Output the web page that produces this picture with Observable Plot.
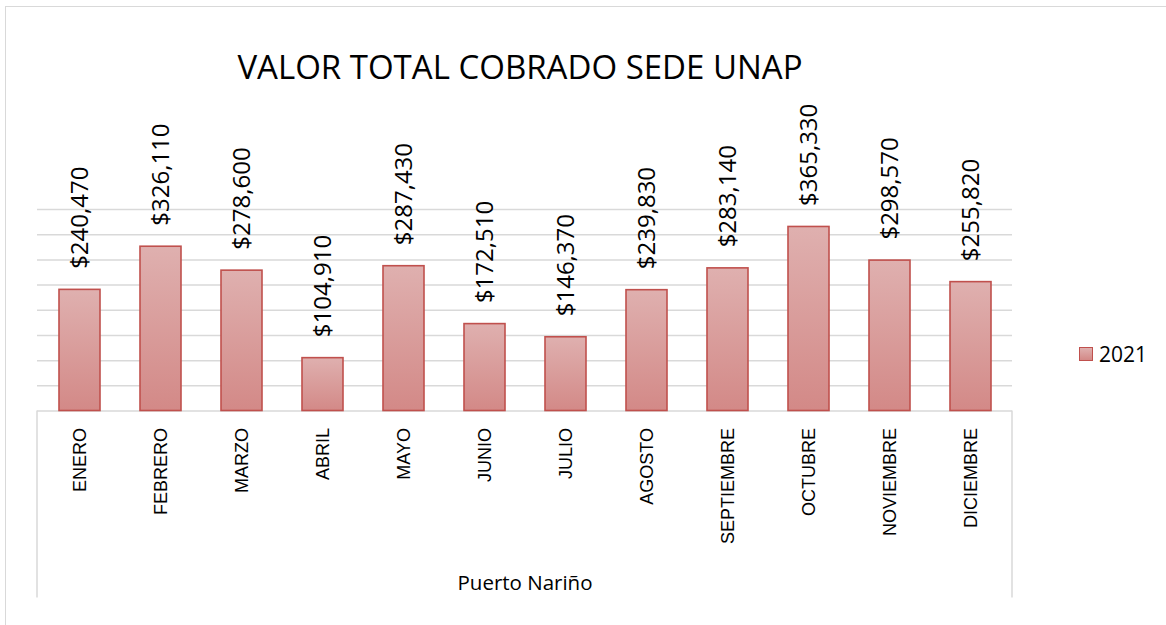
<!DOCTYPE html>
<html>
<head>
<meta charset="utf-8">
<script src="https://cdn.jsdelivr.net/npm/d3@7"></script>
<script src="https://cdn.jsdelivr.net/npm/@observablehq/plot@0.6"></script>
<style>
  html, body { margin: 0; padding: 0; background: #fff; }
  #wrap { position: relative; width: 1166px; height: 625px; overflow: hidden; }
  #border { position: absolute; left: 5px; top: 6px; width: 1200px; height: 700px; border: 1.5px solid #d9d9d9; box-sizing: border-box; }
  #title { position: absolute; left: 0; width: 1040px; top: 50px; text-align: center; font-family: "Open Sans", sans-serif; font-size: 33px; color: #000; line-height: 1; white-space: nowrap; }
  #chart { position: absolute; left: 0; top: 0; }
  #legend { position: absolute; left: 1079px; top: 341px; font-family: "Open Sans", sans-serif; font-size: 21px; color: #000; display: flex; align-items: center; gap: 6px; line-height: 26px; }
  #legend .sw { width: 14px; height: 14px; box-sizing: border-box; border: 1.5px solid #c0504d; background: linear-gradient(#dfb0af, #d38987); }
</style>
</head>
<body>
<div id="wrap">
  <div id="border"></div>
  <div id="chart"></div>
  <div id="title"></div>
  <div id="legend"></div>
</div>
<script>
const months = ["ENERO","FEBRERO","MARZO","ABRIL","MAYO","JUNIO","JULIO","AGOSTO","SEPTIEMBRE","OCTUBRE","NOVIEMBRE","DICIEMBRE"];
const values2021 = [240470, 326110, 278600, 104910, 287430, 172510, 146370, 239830, 283140, 365330, 298570, 255820];
const seriesName = "2021";
const titleText = "VALOR TOTAL COBRADO SEDE UNAP";
const axisTitle = "Puerto Nariño";
const yTicks = [0, 50000, 100000, 150000, 200000, 250000, 300000, 350000, 400000];

const data = months.map((m, i) => ({month: m, value: values2021[i]}));
const fmt = d3.format(",");

document.getElementById("title").textContent = titleText;
const leg = document.getElementById("legend");
leg.innerHTML = '<span class="sw"></span><span></span>';
leg.lastChild.textContent = seriesName;

const chart = Plot.plot({
  width: 1166,
  height: 625,
  marginLeft: 37,
  marginRight: 154,
  marginTop: 209,
  marginBottom: 214.5,
  style: {fontFamily: "Open Sans, sans-serif", background: "transparent", overflow: "visible"},
  x: {domain: months, paddingInner: 0.5, paddingOuter: 0.25, axis: null},
  y: {domain: [0, 400000], axis: null},
  marks: [
    Plot.gridY(yTicks, {stroke: "#d9d9d9", strokeOpacity: 1, strokeWidth: 1.5}),
    Plot.barY(data, {x: "month", y: "value", fill: "url(#barGrad)", stroke: "#c0504d", strokeWidth: 1.6}),
    Plot.text(data, {x: "month", y: "value", text: d => "$" + fmt(d.value), rotate: -90, textAnchor: "start", lineAnchor: "middle", dy: -21, fontSize: 24, fill: "#000"}),
    Plot.axisX({tickRotate: -90, tickSize: 0, tickPadding: 17, fontSize: 18, fontFamily: "Liberation Sans, Arial, sans-serif", label: null, fill: "#000"}),
    Plot.text([axisTitle], {frameAnchor: "bottom", dy: 172, lineAnchor: "middle", fontSize: 20.5, fill: "#000"})
  ]
});

const svg = d3.select(chart);
const defs = svg.insert("defs", ":first-child");
const grad = defs.append("linearGradient").attr("id", "barGrad").attr("x1", 0).attr("y1", 0).attr("x2", 0).attr("y2", 1);
grad.append("stop").attr("offset", "0%").attr("stop-color", "#dfb0af");
grad.append("stop").attr("offset", "100%").attr("stop-color", "#d38987");

// category axis box (left & right edges below the baseline)
const xr = chart.scale("x").range;
const yr = chart.scale("y").range;
const y0 = yr[0];
svg.append("g").selectAll("line").data([xr[0], xr[1]]).join("line")
  .attr("x1", d => d).attr("x2", d => d)
  .attr("y1", y0).attr("y2", y0 + 187)
  .attr("stroke", "#d9d9d9").attr("stroke-width", 1.5);

document.getElementById("chart").appendChild(chart);
</script>
</body>
</html>
